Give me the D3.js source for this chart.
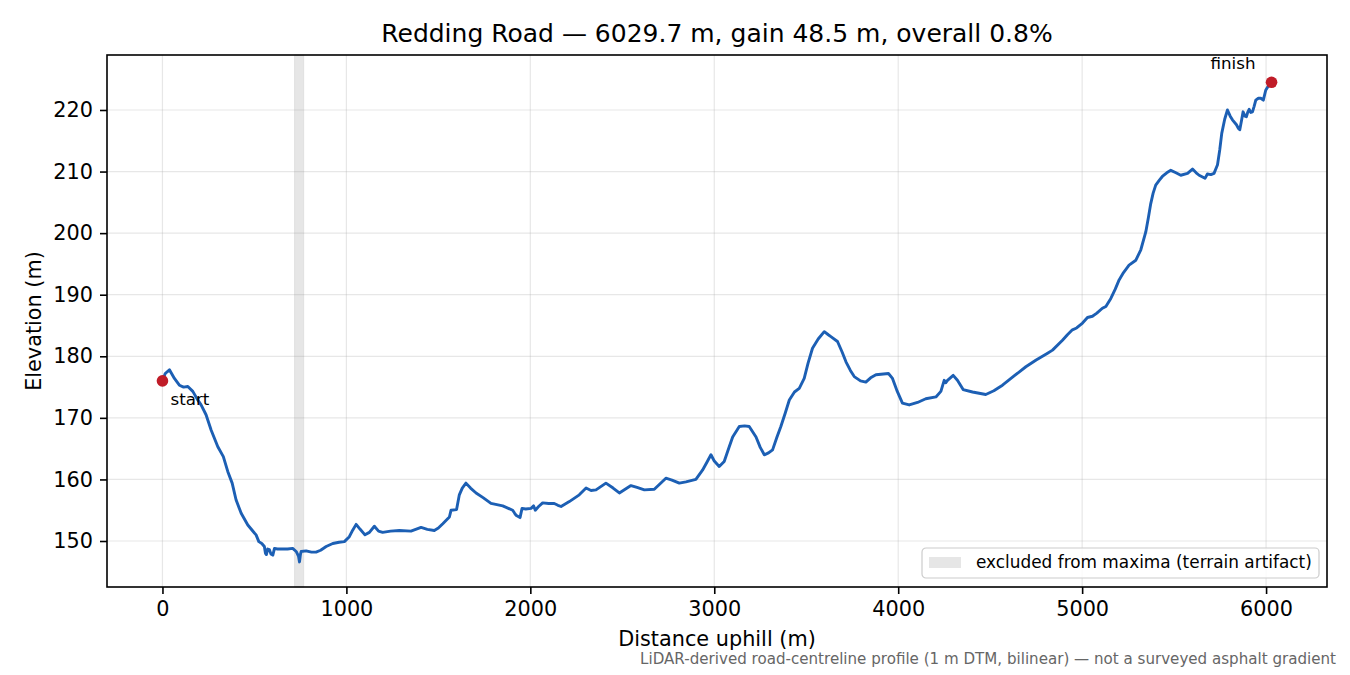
<!DOCTYPE html>
<html>
<head>
<meta charset="utf-8">
<script src="https://cdn.jsdelivr.net/npm/d3@7"></script>
<style>
  body { margin: 0; background: #fff; }
  svg { font-family: 'DejaVu Sans', sans-serif; }
</style>
</head>
<body>
<svg id="chart" width="1350" height="675"></svg>
<script>
// Profile (distance uphill in m, elevation in m)
const dist = [0, 15, 38, 65, 92, 115, 138, 165, 190, 210, 237, 265, 301, 331, 355, 379, 400, 428, 464, 500,
  509, 524, 540, 554, 560, 565, 572, 581, 590, 600, 609, 625, 645, 680, 708, 727, 740, 745, 750, 754,
  781, 810, 835, 860, 890, 926, 960, 989, 1016, 1035, 1053, 1075, 1101, 1125, 1152, 1175, 1197, 1240, 1288, 1351,
  1406, 1440, 1478, 1500, 1524, 1560, 1569, 1599, 1614, 1630, 1650, 1675, 1705, 1745, 1786, 1850, 1904, 1915, 1922, 1944,
  1955, 1975, 2004, 2018, 2027, 2045, 2067, 2100, 2130, 2150, 2167, 2212, 2266, 2303, 2330, 2357, 2411, 2450, 2484, 2547,
  2580, 2620, 2674, 2737, 2770, 2810, 2846, 2900, 2936, 2960, 2982, 3000, 3027, 3054, 3080, 3100, 3136, 3165, 3190, 3227,
  3250, 3272, 3295, 3317, 3340, 3362, 3386, 3408, 3436, 3462, 3489, 3510, 3534, 3565, 3598, 3620, 3634, 3670, 3695, 3716,
  3740, 3761, 3795, 3824, 3850, 3879, 3947, 3969, 3995, 4023, 4060, 4105, 4150, 4205, 4232, 4250, 4258, 4268, 4299, 4322,
  4353, 4404, 4476, 4520, 4567, 4630, 4694, 4750, 4812, 4839, 4893, 4920, 4947, 4970, 5002, 5029, 5056, 5080, 5110, 5129,
  5156, 5180, 5201, 5225, 5255, 5292, 5319, 5346, 5360, 5373, 5386, 5400, 5420, 5436, 5460, 5482, 5510, 5536, 5573, 5600,
  5620, 5636, 5668, 5681, 5700, 5717, 5736, 5748, 5759, 5775, 5790, 5805, 5817, 5839, 5850, 5857, 5866, 5875, 5885, 5893,
  5900, 5908, 5917, 5926, 5935, 5944, 5958, 5971, 5985, 5998, 6012, 6029.7]
const elev = [176.0, 177.2, 177.8, 176.4, 175.3, 175.0, 175.1, 174.3, 173.0, 172.1, 170.5, 168.0, 165.3, 163.7, 161.3, 159.4, 156.7, 154.5, 152.6, 151.3,
  151.0, 149.9, 149.6, 149.1, 148.0, 147.8, 148.7, 148.6, 147.9, 147.7, 148.8, 148.7, 148.7, 148.7, 148.8, 148.3, 147.5, 146.6, 147.8, 148.3,
  148.4, 148.2, 148.2, 148.5, 149.1, 149.6, 149.8, 149.9, 150.7, 151.8, 152.7, 151.9, 151.0, 151.4, 152.4, 151.6, 151.4, 151.6, 151.7, 151.6,
  152.2, 151.9, 151.7, 152.1, 152.8, 153.9, 155.0, 155.1, 157.5, 158.6, 159.4, 158.6, 157.8, 157.0, 156.1, 155.7, 155.0, 154.5, 154.2, 153.8,
  155.3, 155.2, 155.3, 155.7, 155.0, 155.6, 156.2, 156.1, 156.1, 155.8, 155.6, 156.4, 157.5, 158.6, 158.2, 158.3, 159.4, 158.6, 157.8, 159.0,
  158.7, 158.3, 158.4, 160.2, 159.9, 159.4, 159.6, 160.0, 161.5, 162.8, 164.0, 163.0, 162.1, 162.9, 165.2, 166.9, 168.6, 168.7, 168.6, 166.9,
  165.2, 164.0, 164.3, 164.8, 166.8, 168.6, 170.8, 172.9, 174.2, 174.8, 176.4, 178.9, 181.3, 182.8, 184.0, 183.5, 183.2, 182.4, 180.7, 179.1,
  177.7, 176.7, 176.0, 175.8, 176.5, 177.0, 177.2, 176.4, 174.3, 172.4, 172.1, 172.5, 173.1, 173.4, 174.3, 176.1, 175.7, 176.1, 176.9, 176.1,
  174.6, 174.2, 173.8, 174.4, 175.3, 176.8, 178.3, 179.4, 180.5, 181.0, 182.6, 183.5, 184.3, 184.6, 185.4, 186.3, 186.5, 187.0, 187.8, 188.1,
  189.4, 190.9, 192.4, 193.6, 194.8, 195.6, 197.3, 200.2, 202.5, 204.8, 206.5, 207.8, 208.6, 209.2, 209.8, 210.2, 209.8, 209.4, 209.7, 210.4,
  209.8, 209.4, 208.9, 209.6, 209.5, 209.7, 211.1, 213.5, 216.2, 218.5, 220.0, 219.0, 218.4, 217.6, 217.0, 216.8, 218.2, 219.7, 219.0, 218.9,
  219.6, 220.1, 219.6, 219.7, 220.6, 221.6, 221.9, 221.9, 221.6, 223.2, 223.9, 224.5]

const xTicks = [0, 1000, 2000, 3000, 4000, 5000, 6000]
const yTicks = [150, 160, 170, 180, 190, 200, 210, 220]
const excludedSpan = [718, 768]
const endpoints = [
  { label: 'start', d: 0, e: 176.0 },
  { label: 'finish', d: 6029.7, e: 224.5 }
]
const titleText = 'Redding Road — 6029.7 m, gain 48.5 m, overall 0.8%'
const legendText = 'excluded from maxima (terrain artifact)'
const noteText = 'LiDAR-derived road-centreline profile (1 m DTM, bilinear) — not a surveyed asphalt gradient'

const svg = d3.select('#chart')
const margin = { top: 55, right: 23, bottom: 88, left: 107 }
const width = 1350 - margin.left - margin.right
const height = 675 - margin.top - margin.bottom

const x = d3.scaleLinear().domain([-301.5, 6331.2]).range([margin.left, margin.left + width])
const y = d3.scaleLinear().domain([142.53, 228.93]).range([margin.top + height, margin.top])

const points = dist.map((d, i) => ({ d: d, e: elev[i] }))

// grid
const grid = svg.append('g').attr('stroke', '#b0b0b0').attr('stroke-opacity', 0.3).attr('stroke-width', 1.2)
grid.selectAll('line.gx').data(xTicks).enter().append('line')
  .attr('x1', d => x(d)).attr('x2', d => x(d))
  .attr('y1', margin.top).attr('y2', margin.top + height)
grid.selectAll('line.gy').data(yTicks).enter().append('line')
  .attr('x1', margin.left).attr('x2', margin.left + width)
  .attr('y1', d => y(d)).attr('y2', d => y(d))

// excluded band
svg.append('rect')
  .attr('x', x(excludedSpan[0]))
  .attr('width', x(excludedSpan[1]) - x(excludedSpan[0]))
  .attr('y', margin.top).attr('height', height)
  .attr('fill', '#8c8c8c').attr('fill-opacity', 0.22)
  .attr('stroke', '#8c8c8c').attr('stroke-opacity', 0.15)

// profile line
svg.append('path')
  .datum(points)
  .attr('fill', 'none')
  .attr('stroke', '#1c5fb4')
  .attr('stroke-width', 2.9)
  .attr('stroke-linejoin', 'round')
  .attr('d', d3.line().x(p => x(p.d)).y(p => y(p.e)))

// start / finish markers
svg.selectAll('circle.end').data(endpoints).enter().append('circle')
  .attr('cx', p => x(p.d)).attr('cy', p => y(p.e)).attr('r', 5.8)
  .attr('fill', '#c01c28')
svg.append('text')
  .attr('x', x(endpoints[0].d) + 8).attr('y', y(endpoints[0].e) + 24)
  .attr('font-size', 16.7).text(endpoints[0].label)
svg.append('text')
  .attr('x', x(endpoints[1].d) - 16).attr('y', y(endpoints[1].e) - 13)
  .attr('text-anchor', 'end')
  .attr('font-size', 16.7).text(endpoints[1].label)

// axes
const xAxis = svg.append('g')
  .attr('transform', 'translate(0,' + (margin.top + height) + ')')
  .call(d3.axisBottom(x).tickValues(xTicks).tickFormat(d3.format('d')).tickSize(7).tickPadding(7))
const yAxis = svg.append('g')
  .attr('transform', 'translate(' + margin.left + ',0)')
  .call(d3.axisLeft(y).tickValues(yTicks).tickFormat(d3.format('d')).tickSize(7).tickPadding(7))
for (const ax of [xAxis, yAxis]) {
  ax.select('.domain').remove()
  ax.selectAll('line').attr('stroke', '#000').attr('stroke-width', 1.6)
  ax.selectAll('text').attr('font-size', 20.8).attr('fill', '#000').attr('font-family', 'DejaVu Sans')
}

// frame
svg.append('rect')
  .attr('x', margin.left).attr('y', margin.top)
  .attr('width', width).attr('height', height)
  .attr('fill', 'none').attr('stroke', '#000').attr('stroke-width', 1.6)

// legend
const lg = svg.append('g').attr('transform', 'translate(922,548)')
lg.append('rect').attr('width', 397).attr('height', 30).attr('rx', 4)
  .attr('fill', '#fff').attr('fill-opacity', 0.8).attr('stroke', '#cccccc').attr('stroke-width', 1.2)
lg.append('rect').attr('x', 7).attr('y', 9).attr('width', 32).attr('height', 11)
  .attr('fill', '#8c8c8c').attr('fill-opacity', 0.22)
lg.append('text').attr('x', 54).attr('y', 20).attr('font-size', 16.9).text(legendText)

// titles
svg.append('text')
  .attr('x', margin.left + width / 2).attr('y', 42)
  .attr('text-anchor', 'middle').attr('font-size', 25)
  .text(titleText)
svg.append('text')
  .attr('x', margin.left + width / 2).attr('y', 646)
  .attr('text-anchor', 'middle').attr('font-size', 20.8)
  .text('Distance uphill (m)')
svg.append('text')
  .attr('transform', 'translate(41,' + (margin.top + height / 2) + ') rotate(-90)')
  .attr('text-anchor', 'middle').attr('font-size', 20.8)
  .text('Elevation (m)')
svg.append('text')
  .attr('x', 1336).attr('y', 664)
  .attr('text-anchor', 'end').attr('font-size', 15.1).attr('fill', '#666')
  .text(noteText)
</script>
</body>
</html>
